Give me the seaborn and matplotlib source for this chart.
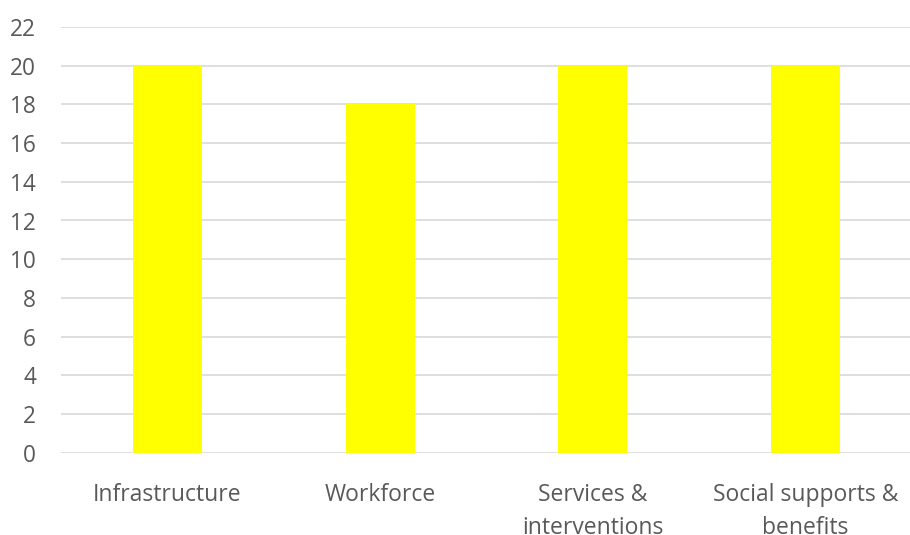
import matplotlib
matplotlib.use("Agg")
import matplotlib.pyplot as plt
import seaborn as sns
import pandas as pd

categories = ["Infrastructure", "Workforce", "Services &\ninterventions", "Social supports &\nbenefits"]
values = [20, 18, 20, 20]
yticks = list(range(0, 23, 2))

sns.set_theme(style="white")
plt.rcParams["font.family"] = ["Open Sans", "DejaVu Sans"]

df = pd.DataFrame({"category": categories, "value": values})

fig = plt.figure(figsize=(9.10, 5.35), dpi=100)
ax = fig.add_axes([61 / 910, (535 - 452.7) / 535, 851 / 910, 425.7 / 535])

sns.barplot(data=df, x="category", y="value", color="#FFFF00", saturation=1,
            width=0.324, linewidth=0, edgecolor="none", ax=ax, zorder=3)

ax.set_ylim(0, 22)
ax.set_xlim(-0.5, 3.5)
ax.set_yticks(yticks)
ax.yaxis.grid(True, color="#D9D9D9", linewidth=1.2, zorder=0)
ax.xaxis.grid(False)
ax.set_axisbelow(True)
for s in ax.spines.values():
    s.set_visible(False)

ax.set_xlabel("")
ax.set_ylabel("")
ax.tick_params(axis="y", length=0, pad=18, labelsize=16.3, labelcolor="#595959")
ax.tick_params(axis="x", length=0, pad=22, labelsize=16.5, labelcolor="#595959")
for lbl in ax.get_xticklabels():
    lbl.set_linespacing(1.5)
    lbl.set_multialignment("center")

fig.savefig("out.png", dpi=100, facecolor="white")
